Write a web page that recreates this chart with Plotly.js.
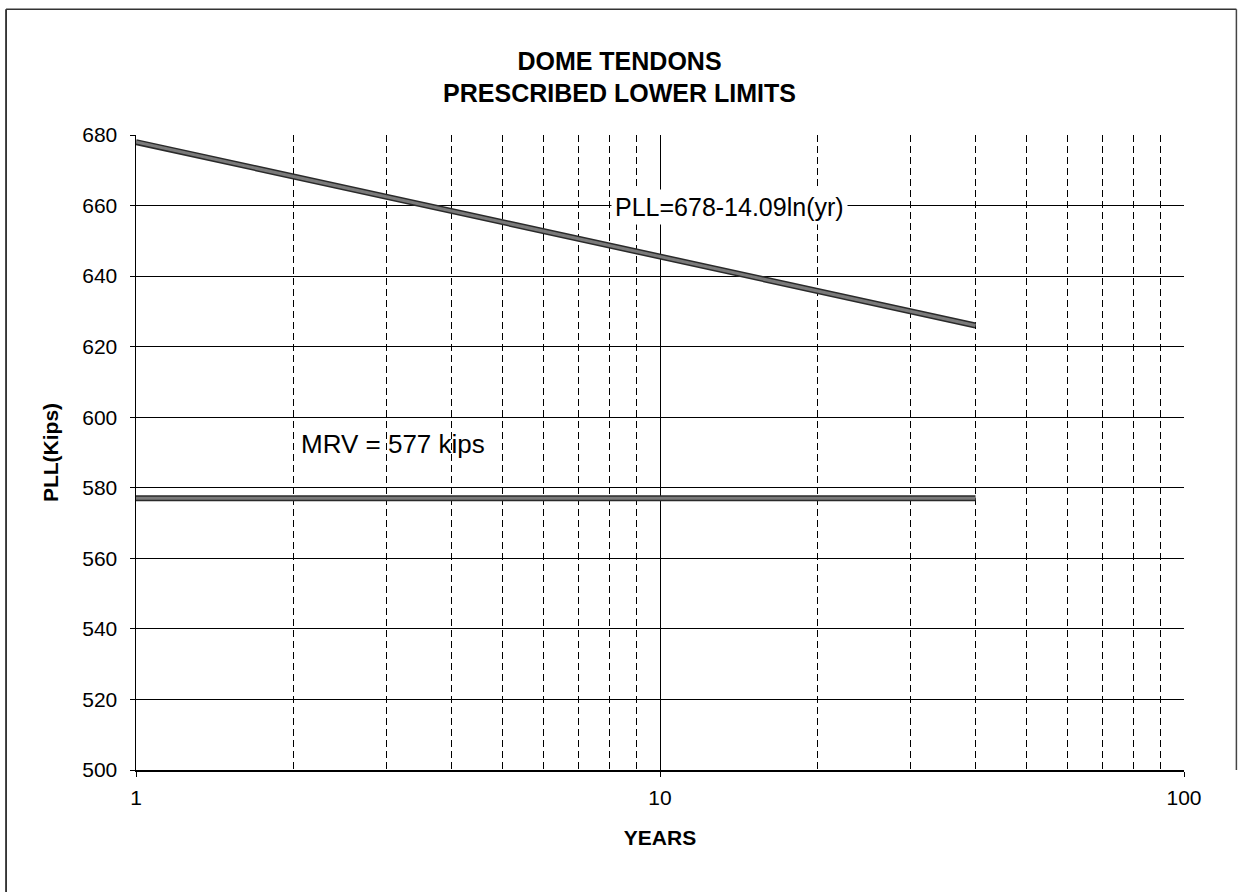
<!DOCTYPE html>
<html>
<head>
<meta charset="utf-8">
<script src="https://cdn.plot.ly/plotly-3.0.1.min.js"></script>
<style>html,body{margin:0;padding:0;background:#fff;}#chart{width:1239px;height:892px;}</style>
</head>
<body>
<div id="chart"></div>
<script>
// Data
const years = [1, 40];
const pll = [678, 626];
const mrvYears = [1, 40];
const mrv = [577, 577];
const yTicks = [500, 520, 540, 560, 580, 600, 620, 640, 660, 680];
const xTicks = [1, 10, 100];
const xMinorTicks = [2, 3, 4, 5, 6, 7, 8, 9, 20, 30, 40, 50, 60, 70, 80, 90];

const FONT = 'Arial, "Liberation Sans", sans-serif';

function band(x, y) {
  return [
    {x: x, y: y, type: 'scatter', mode: 'lines', line: {color: '#2a2a2a', width: 6}, hoverinfo: 'skip', showlegend: false},
    {x: x, y: y, type: 'scatter', mode: 'lines', line: {color: '#7a7a7a', width: 3}, hoverinfo: 'skip', showlegend: false}
  ];
}

const data = [...band(years, pll), ...band(mrvYears, mrv)];

const layout = {
  width: 1239, height: 892,
  margin: {l: 136, r: 55, t: 135, b: 122},
  paper_bgcolor: '#fff', plot_bgcolor: '#fff',
  font: {family: FONT, color: '#000', size: 21},
  showlegend: false,
  title: {
    text: '<b>DOME TENDONS<br>PRESCRIBED LOWER LIMITS</b>',
    font: {family: FONT, size: 25, color: '#000'},
    x: 0.5, xref: 'container', xanchor: 'center',
    y: 0.922, yref: 'container', yanchor: 'middle'
  },
  xaxis: {
    type: 'log', range: [0, 2],
    tickmode: 'array', tickvals: xTicks, ticktext: xTicks.map(String),
    ticks: 'outside', ticklen: 5, tickcolor: '#000',
    ticklabelstandoff: 3,
    showline: true, linecolor: '#000', linewidth: 1.5,
    showgrid: true, gridcolor: '#000', gridwidth: 1,
    zeroline: false,
    tickfont: {family: FONT, size: 21},
    minor: {tickmode: 'array', tickvals: xMinorTicks, showgrid: true, gridcolor: '#000', gridwidth: 1, griddash: '7px,4px', ticks: ''},
    title: {text: '<b>YEARS</b>', font: {family: FONT, size: 21}, standoff: 22}
  },
  yaxis: {
    range: [500, 680],
    tickmode: 'array', tickvals: yTicks, ticktext: yTicks.map(String),
    ticks: 'outside', ticklen: 5, tickcolor: '#000',
    ticklabelstandoff: 8,
    showline: true, linecolor: '#000', linewidth: 1.5,
    showgrid: true, gridcolor: '#000', gridwidth: 1,
    zeroline: false,
    tickfont: {family: FONT, size: 21},
    title: {text: '<b>PLL(Kips)</b>', font: {family: FONT, size: 21}, standoff: 18}
  },
  annotations: [
    {x: Math.log10(13.57), y: 659.5, xref: 'x', yref: 'y', text: 'PLL=678-14.09ln(yr)', showarrow: false,
     font: {family: FONT, size: 25, color: '#000'}, bgcolor: '#fff', xanchor: 'center', yanchor: 'middle', borderpad: 3},
    {x: Math.log10(2.05), y: 592.5, xref: 'x', yref: 'y', text: 'MRV = 577 kips', showarrow: false,
     font: {family: FONT, size: 26, color: '#000'}, xanchor: 'left', yanchor: 'middle'}
  ],
  shapes: [
    {type: 'line', xref: 'paper', yref: 'paper', x0: -0.124, x1: -0.124, y0: 1.198, y1: -0.25, line: {color: '#000', width: 1.5}},
    {type: 'line', xref: 'paper', yref: 'paper', x0: -0.124, x1: 1.05, y0: 1.198, y1: 1.198, line: {color: '#333', width: 1.5}},
    {type: 'line', xref: 'paper', yref: 'paper', x0: 1.05, x1: 1.05, y0: 1.198, y1: 0.0, line: {color: '#444', width: 1.5}}
  ]
};

Plotly.newPlot('chart', data, layout, {displayModeBar: false, staticPlot: true});
</script>
</body>
</html>
